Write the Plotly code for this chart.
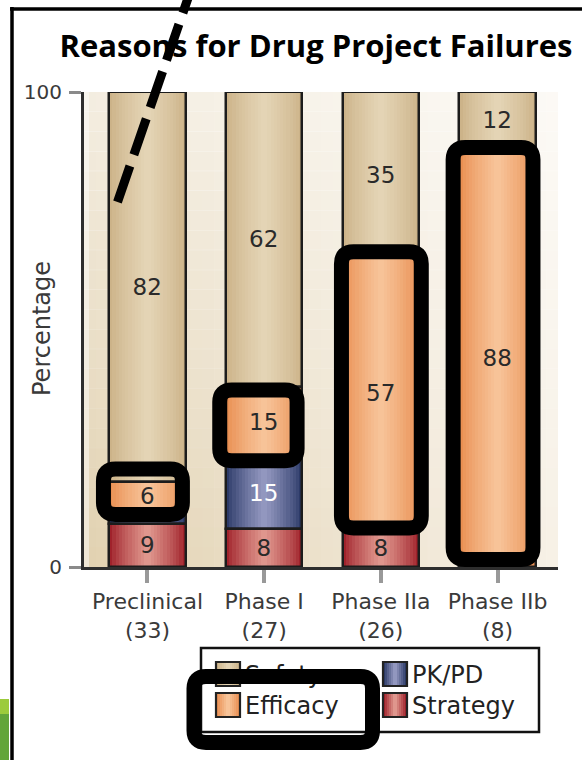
import numpy as np
import plotly.graph_objects as go

# ---------------- data ----------------
categories = ["Preclinical<br>(33)", "Phase I<br>(27)", "Phase IIa<br>(26)", "Phase IIb<br>(8)"]
strategy = [9, 8, 8, 0]
pkpd = [3, 15, 0, 0]
efficacy = [6, 15, 57, 88]
safety = [82, 62, 35, 12]
y_tick_values = [0, 100]
y_tick_labels = ["0", "100"]
legend_labels = ["Safety", "PK/PD", "Efficacy", "Strategy"]
title_text = "Reasons for Drug Project Failures"
y_title = "Percentage"

# ---------------- geometry / style ----------------
W, H = 582, 760
PLOT_L, PLOT_R, PLOT_T, PLOT_B = 84, 558, 92, 567
X_RANGE = [-0.544, 3.518]
BAR_W = 0.655
PX_X = (PLOT_R - PLOT_L) / (X_RANGE[1] - X_RANGE[0])   # pixels per category unit
PX_Y = (PLOT_B - PLOT_T) / 100.0                       # pixels per percent

FONT = "DejaVu Sans"
OUTLINE = "#1c1c1c"

# edge colour -> centre colour of the cylindrical shading
SHADES = {
    "Strategy": ("#a0222b", "#df968d"),
    "PK/PD": ("#2c3a68", "#9297bf"),
    "Efficacy": ("#e98f52", "#f7c398"),
    "Safety": ("#ccb389", "#e4d4b5"),
}
LABEL_COLOR = {"Strategy": "#2a2a2a", "PK/PD": "#ffffff", "Efficacy": "#2a2a2a", "Safety": "#2a2a2a"}


def fx(px):
    return px / W


def fy(py):
    return 1 - py / H


def hex_rgb(h):
    h = h.lstrip("#")
    return np.array([int(h[i:i + 2], 16) for i in (0, 2, 4)], dtype=float)


def mix(c1, c2, t):
    a, b = hex_rgb(c1), hex_rgb(c2)
    r = a + (b - a) * t
    return "rgb(%d,%d,%d)" % tuple(np.round(r))


def rounded_path(x0, x1, y0, y1, rx, ry):
    return (f"M{x0 + rx},{y0} L{x1 - rx},{y0} Q{x1},{y0} {x1},{y0 + ry} "
            f"L{x1},{y1 - ry} Q{x1},{y1} {x1 - rx},{y1} L{x0 + rx},{y1} "
            f"Q{x0},{y1} {x0},{y1 - ry} L{x0},{y0 + ry} Q{x0},{y0} {x0 + rx},{y0} Z")


x_pos = np.arange(len(categories))
stack = {"Strategy": strategy, "PK/PD": pkpd, "Efficacy": efficacy, "Safety": safety}
bases = {}
running = np.zeros(len(categories))
for name in ["Strategy", "PK/PD", "Efficacy", "Safety"]:
    bases[name] = running.copy()
    running = running + np.array(stack[name], dtype=float)

fig = go.Figure()

# shaded bar segments: nested bars of shrinking width give the rounded look
N_LEVELS = 12
for name in ["Strategy", "PK/PD", "Efficacy", "Safety"]:
    vals = [v if v else None for v in stack[name]]
    edge, centre = SHADES[name]
    for k in range(N_LEVELS):
        t = (k / (N_LEVELS - 1)) ** 0.8
        fig.add_trace(go.Bar(
            x=x_pos, y=vals, base=bases[name], width=BAR_W * (1 - k / N_LEVELS),
            marker=dict(color=mix(edge, centre, t), line=dict(width=0)),
            showlegend=False, hoverinfo="skip"))

# outlines and value labels (thin segments get a smaller label)
for name in ["Strategy", "PK/PD", "Efficacy", "Safety"]:
    vals = [v if v else None for v in stack[name]]
    fig.add_trace(go.Bar(
        x=x_pos, y=vals, base=bases[name], width=BAR_W,
        marker=dict(color="rgba(0,0,0,0)", line=dict(color=OUTLINE, width=2.5)),
        text=[str(v) if v else "" for v in stack[name]],
        textposition="inside", insidetextanchor="middle", constraintext="none",
        textangle=0,
        textfont=dict(family=FONT, color=LABEL_COLOR[name],
                      size=[23 if v >= 5 else 11 for v in stack[name]]),
        showlegend=False, hoverinfo="skip"))

# ---------------- shapes ----------------
shapes = []

# plot-area background: horizontal beige-to-white ramp, lightened toward the top
N_STRIPES = 40
for i in range(N_STRIPES):
    x0 = PLOT_L + (PLOT_R - PLOT_L) * i / N_STRIPES
    x1 = PLOT_L + (PLOT_R - PLOT_L) * (i + 1) / N_STRIPES + 0.5
    shapes.append(dict(type="rect", xref="paper", yref="paper", layer="below",
                       x0=fx(x0), x1=fx(min(x1, PLOT_R)), y0=fy(PLOT_B), y1=fy(PLOT_T),
                       fillcolor=mix("#e2d2b2", "#f7f1e6", i / (N_STRIPES - 1)), line=dict(width=0)))
N_BANDS = 24
for j in range(N_BANDS):
    y0 = PLOT_B - (PLOT_B - PLOT_T) * j / N_BANDS
    y1 = PLOT_B - (PLOT_B - PLOT_T) * (j + 1) / N_BANDS - 0.5
    shapes.append(dict(type="rect", xref="paper", yref="paper", layer="below",
                       x0=fx(PLOT_L), x1=fx(PLOT_R), y0=fy(y0), y1=fy(max(y1, PLOT_T)),
                       fillcolor="white", opacity=0.6 * j / (N_BANDS - 1), line=dict(width=0)))
# light left wall strip
shapes.append(dict(type="rect", xref="paper", yref="paper", layer="below",
                   x0=fx(PLOT_L), x1=fx(PLOT_L + 5), y0=fy(PLOT_B), y1=fy(PLOT_T),
                   fillcolor="rgba(255,255,255,0.45)", line=dict(width=0)))

# legend frame, swatches
LEG_BOX = (201, 539, 648, 732)
shapes.append(dict(type="rect", xref="paper", yref="paper", layer="below",
                   x0=fx(LEG_BOX[0]), x1=fx(LEG_BOX[1]), y0=fy(LEG_BOX[3]), y1=fy(LEG_BOX[2]),
                   fillcolor="white", line=dict(color="#111111", width=2.5)))
LEG_COLS = [216, 383]
LEG_ROWS = [662, 693]
SW = 24
for idx, name in enumerate(legend_labels):
    cx0 = LEG_COLS[idx % 2]
    cy0 = LEG_ROWS[idx // 2]
    edge, centre = SHADES[name]
    n = 6
    for k in range(n):
        inset = SW / 2 * k / n
        shapes.append(dict(type="rect", xref="paper", yref="paper", layer="below",
                           x0=fx(cx0 + inset), x1=fx(cx0 + SW - inset), y0=fy(cy0 + SW), y1=fy(cy0),
                           fillcolor=mix(edge, centre, k / (n - 1)), line=dict(width=0)))
    shapes.append(dict(type="rect", xref="paper", yref="paper", layer="below",
                       x0=fx(cx0), x1=fx(cx0 + SW), y0=fy(cy0 + SW), y1=fy(cy0),
                       line=dict(color="#222222", width=2.2)))

# thick rounded highlight boxes around the efficacy segments
HL_PADS = [(5.8, -3.3, 4.5, 12.5), (6.2, -5.3, 3.0, -3.5), (1.2, 2.2, -1.0, 6.6), (6.2, -2.8, -7.5, 1.5)]
R = 12
for i, (pl, pr, pb, pt) in enumerate(HL_PADS):
    lo = bases["Efficacy"][i]
    hi = lo + efficacy[i]
    x0 = x_pos[i] - BAR_W / 2 - pl / PX_X
    x1 = x_pos[i] + BAR_W / 2 + pr / PX_X
    y0 = lo - pb / PX_Y
    y1 = hi + pt / PX_Y
    shapes.append(dict(type="path", xref="x", yref="y", layer="above",
                       path=rounded_path(x0, x1, y0, y1, R / PX_X, R / PX_Y),
                       line=dict(color="black", width=15), fillcolor="rgba(0,0,0,0)"))

# highlight around the Efficacy legend entry
shapes.append(dict(type="path", xref="paper", yref="paper", layer="above",
                   path=rounded_path(fx(194), fx(372.5), fy(742.5), fy(676.5), R / W, R / H),
                   line=dict(color="black", width=15), fillcolor="rgba(0,0,0,0)"))

# outer frame and corner accent
shapes.append(dict(type="line", xref="paper", yref="paper", layer="above",
                   x0=fx(10), x1=fx(582), y0=fy(9), y1=fy(9), line=dict(color="black", width=3.5)))
shapes.append(dict(type="line", xref="paper", yref="paper", layer="above",
                   x0=fx(12), x1=fx(12), y0=fy(7), y1=fy(760), line=dict(color="black", width=3.5)))
shapes.append(dict(type="rect", xref="paper", yref="paper", layer="above",
                   x0=fx(0), x1=fx(9), y0=fy(714), y1=fy(699), fillcolor="#9ccb3b", line=dict(width=0)))
shapes.append(dict(type="rect", xref="paper", yref="paper", layer="above",
                   x0=fx(0), x1=fx(9), y0=fy(760), y1=fy(714), fillcolor="#62a539", line=dict(width=0)))

# dashed pointer line
shapes.append(dict(type="line", xref="paper", yref="paper", layer="above",
                   x0=fx(117.5), y0=fy(202), x1=fx(191.5), y1=fy(-12),
                   line=dict(color="black", width=9, dash="38px,12px")))

# ---------------- text on a full-figure overlay subplot ----------------
fig.add_trace(go.Scatter(
    x=[316], y=[49], mode="text", text=[title_text], textposition="middle center",
    textfont=dict(family="Open Sans", size=31, color="black", weight="bold"),
    xaxis="x2", yaxis="y2", showlegend=False, hoverinfo="skip", cliponaxis=False))
fig.add_trace(go.Scatter(
    x=[LEG_COLS[i % 2] + SW + 5 for i in range(4)],
    y=[LEG_ROWS[i // 2] + SW / 2 + 3 for i in range(4)],
    mode="text", text=legend_labels, textposition="middle right",
    textfont=dict(family=FONT, size=24, color="#222222"),
    xaxis="x2", yaxis="y2", showlegend=False, hoverinfo="skip", cliponaxis=False))

fig.update_layout(
    width=W, height=H, margin=dict(l=0, r=0, t=0, b=0, autoexpand=False),
    paper_bgcolor="white", plot_bgcolor="rgba(0,0,0,0)",
    barmode="overlay", bargap=0, showlegend=False,
    shapes=shapes,
    xaxis=dict(domain=[fx(PLOT_L), fx(PLOT_R)], range=X_RANGE, anchor="y", automargin=False,
               tickvals=list(x_pos), ticktext=categories, ticks="outside", ticklen=13,
               tickwidth=4, tickcolor="#999999", showline=True, linecolor="#2e2e2e", linewidth=3,
               showgrid=False, zeroline=False, tickfont=dict(family=FONT, size=22, color="#3a3a3a"),
               fixedrange=True),
    yaxis=dict(domain=[fy(PLOT_B), fy(PLOT_T)], range=[0, 100], anchor="x", automargin=False,
               tickvals=y_tick_values, ticktext=y_tick_labels, ticks="outside", ticklen=12,
               tickwidth=2.5, tickcolor="#8a8a8a", showline=True, linecolor="#2e2e2e", linewidth=3,
               showgrid=False, zeroline=False, ticklabelstandoff=3,
               tickfont=dict(family=FONT, size=20, color="#3a3a3a"), fixedrange=True),
    xaxis2=dict(domain=[0, 1], range=[0, W], anchor="y2", visible=False, fixedrange=True,
                automargin=False),
    yaxis2=dict(domain=[0, 1], range=[H, 0], anchor="x2", visible=False, fixedrange=True,
                automargin=False),
    annotations=[dict(text=y_title, xref="paper", yref="paper", x=fx(42), y=fy(328),
                      textangle=-90, showarrow=False, xanchor="center", yanchor="middle",
                      font=dict(family=FONT, size=24, color="#3a3a3a"))],
)

fig.write_html("out.html")
